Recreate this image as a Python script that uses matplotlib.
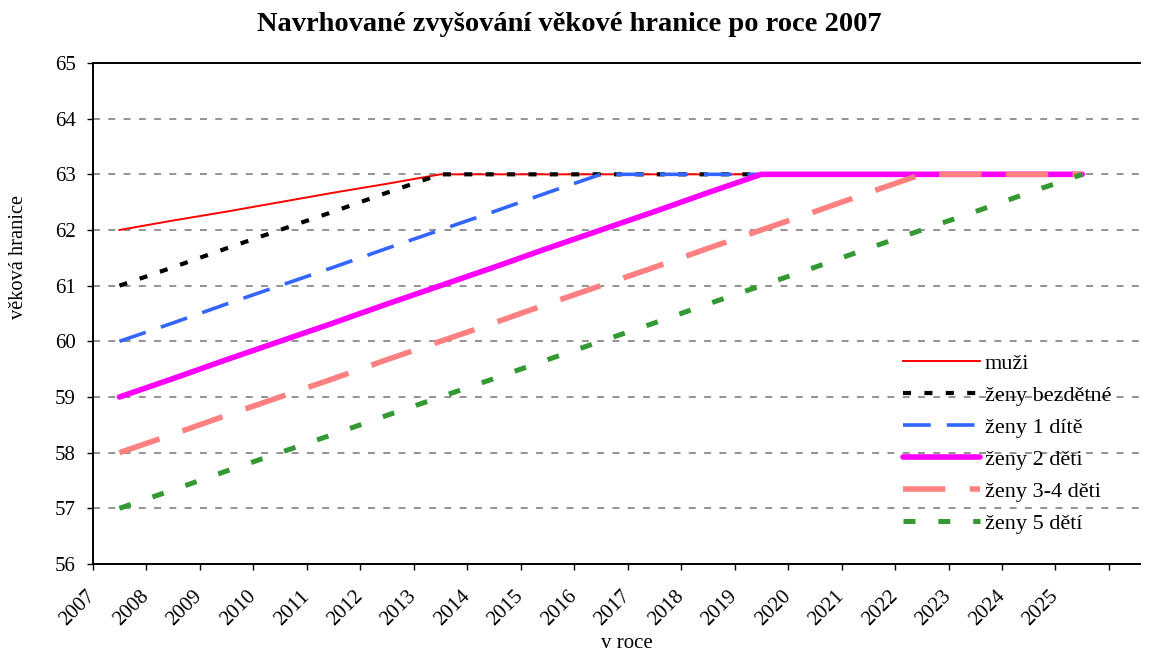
import matplotlib
matplotlib.use("Agg")
import matplotlib.pyplot as plt
from matplotlib.transforms import ScaledTranslation

# ---- data ----
years = [2007, 2008, 2009, 2010, 2011, 2012, 2013, 2014, 2015, 2016,
         2017, 2018, 2019, 2020, 2021, 2022, 2023, 2024, 2025]
muzi = [62.00, 62.17, 62.33, 62.50, 62.67, 62.83, 63.00, 63.00, 63.00, 63.00,
        63.00, 63.00, 63.00, 63.00, 63.00, 63.00, 63.00, 63.00, 63.00]
zeny_bezdetne = [61.00, 61.33, 61.67, 62.00, 62.33, 62.67, 63.00, 63.00, 63.00, 63.00,
                 63.00, 63.00, 63.00, 63.00, 63.00, 63.00, 63.00, 63.00, 63.00]
zeny_1 = [60.00, 60.33, 60.67, 61.00, 61.33, 61.67, 62.00, 62.33, 62.67, 63.00,
          63.00, 63.00, 63.00, 63.00, 63.00, 63.00, 63.00, 63.00, 63.00]
zeny_2 = [59.00, 59.33, 59.67, 60.00, 60.33, 60.67, 61.00, 61.33, 61.67, 62.00,
          62.33, 62.67, 63.00, 63.00, 63.00, 63.00, 63.00, 63.00, 63.00]
zeny_34 = [58.00, 58.33, 58.67, 59.00, 59.33, 59.67, 60.00, 60.33, 60.67, 61.00,
           61.33, 61.67, 62.00, 62.33, 62.67, 63.00, 63.00, 63.00, 63.00]
zeny_5 = [57.00, 57.33, 57.67, 58.00, 58.33, 58.67, 59.00, 59.33, 59.67, 60.00,
          60.33, 60.67, 61.00, 61.33, 61.67, 62.00, 62.33, 62.67, 63.00]
labels = ["muži", "ženy bezdětné", "ženy 1 dítě", "ženy 2 děti", "ženy 3-4 děti", "ženy 5 dětí"]
title = "Navrhované zvyšování věkové hranice po roce 2007"
xlabel = "v roce"
ylabel = "věková hranice"
yticks = [56, 57, 58, 59, 60, 61, 62, 63, 64, 65]

plt.rcParams['font.family'] = ['Liberation Serif', 'DejaVu Serif']
plt.rcParams['lines.scale_dashes'] = False

fig = plt.figure(figsize=(11.54, 6.52), dpi=100)
W, H = 1154, 652
ax = fig.add_axes([92.7 / W, 1 - 564 / H, (1140 - 92.7) / W, (564 - 63) / H])

x = [y + 0.5 for y in years]  # mid-year points

ax.plot(x, muzi, color='#FF0000', lw=1.4, label=labels[0])
ax.plot(x, zeny_bezdetne, color='#000000', lw=3.0, dashes=(5.8, 9.6), label=labels[1])
ax.plot(x, zeny_1, color='#3366FF', lw=2.6, dashes=(20, 11.5), label=labels[2])
ax.plot(x, zeny_2, color='#FF00FF', lw=4.0, solid_capstyle='round', label=labels[3])
ax.plot(x, zeny_34, color='#FF8080', lw=4.0, dashes=(30.5, 17.5), label=labels[4])
ax.plot(x, zeny_5, color='#339933', lw=3.6, dashes=(8.6, 16.5), label=labels[5])

ax.set_xlim(2007, 2026.58)
ax.set_ylim(56, 65)
ax.set_yticks(yticks)
ax.set_yticklabels([str(v) for v in yticks], fontsize=15)
xt = years + [2026]
ax.set_xticks(xt)
ax.set_xticklabels([str(v) for v in years] + [""], fontsize=15, rotation=45,
                   ha='right', va='center', rotation_mode='anchor')
for lab in ax.get_xticklabels():
    lab.set_transform(lab.get_transform() + ScaledTranslation(0.14, -0.02, fig.dpi_scale_trans))

ax.tick_params(axis='y', length=4.3, width=1.0, pad=8, color='#000000')
ax.tick_params(axis='x', length=4.3, width=1.0, pad=17, color='#000000')

for y in yticks[1:-1]:
    ax.axhline(y, color='#808080', lw=1.2, dashes=(5, 6), zorder=0)

ax.spines['right'].set_visible(False)
for s in ['left', 'bottom', 'top']:
    ax.spines[s].set_linewidth(1.4)
    ax.spines[s].set_color('#000000')

fig.text(569 / W, 1 - 31 / H, title, ha='center', va='baseline', fontsize=20.5, fontweight='bold')
fig.text(627 / W, 1 - 643 / H, xlabel, ha='center', va='center', fontsize=15)
fig.text(19 / W, 1 - 257 / H, ylabel, ha='center', va='center', fontsize=14.7, rotation=90)

leg = fig.legend(loc='upper left', bbox_to_anchor=(903 / W, 1 - 353 / H),
                 bbox_transform=fig.transFigure, frameon=False, fontsize=16,
                 handlelength=3.46, handletextpad=0.22, labelspacing=0.52,
                 borderpad=0, borderaxespad=0)

fig.savefig("out.png", dpi=100)
